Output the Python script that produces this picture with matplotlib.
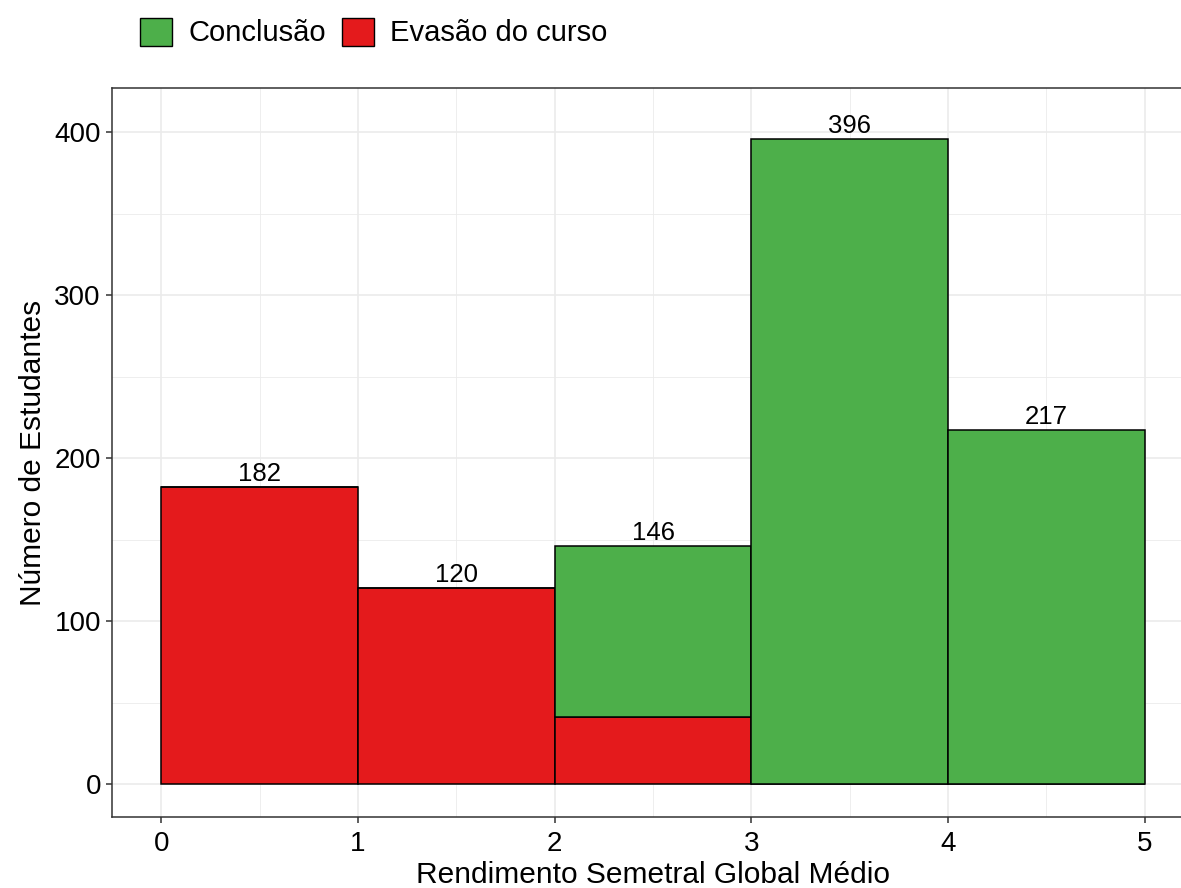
import matplotlib.pyplot as plt
from matplotlib.patches import Patch
from matplotlib.ticker import MultipleLocator

plt.rcParams['font.family'] = ['Liberation Sans', 'DejaVu Sans']

# Dados do histograma
bin_edges = [0, 1, 2, 3, 4, 5]
evasao = [182, 120, 41, 0, 0]
conclusao = [0, 0, 105, 396, 217]
totais = [e + c for e, c in zip(evasao, conclusao)]

cor_conclusao = '#4DAF4A'
cor_evasao = '#E41A1C'

fig = plt.figure(figsize=(11.81, 8.88), dpi=100)
ax = fig.add_axes([112 / 1181, 71 / 888, 1082 / 1181, 729 / 888])

left = bin_edges[:-1]
ax.bar(left, evasao, width=1, align='edge', color=cor_evasao,
       edgecolor='black', linewidth=1.1, zorder=3)
ax.bar(left, conclusao, width=1, align='edge', bottom=evasao,
       color=cor_conclusao, edgecolor='black', linewidth=1.1, zorder=3)

# rótulos com o total de cada barra
for x, t in zip(left, totais):
    ax.text(x + 0.5, t + 3.7, str(t), ha='center', va='baseline',
            fontsize=18.5, color='black', zorder=4)

ax.set_xlim(-0.25, 5.25)
ax.set_ylim(-20.2, 427)
ax.xaxis.set_major_locator(MultipleLocator(1))
ax.xaxis.set_minor_locator(MultipleLocator(0.5))
ax.yaxis.set_major_locator(MultipleLocator(100))
ax.yaxis.set_minor_locator(MultipleLocator(50))

ax.grid(which='major', color='#EBEBEB', linewidth=1.2, zorder=0)
ax.grid(which='minor', color='#EBEBEB', linewidth=0.6, zorder=0)
ax.set_axisbelow(True)

for s in ax.spines.values():
    s.set_color('#333333')
    s.set_linewidth(1.1)

ax.tick_params(which='major', length=4, width=1.1, color='#333333',
               labelsize=20, labelcolor='black', pad=4)
ax.tick_params(axis='x', pad=6)
ax.tick_params(which='minor', length=0)

ax.set_xlabel('Rendimento Semetral Global Médio', fontsize=21.5, labelpad=3)
ax.set_ylabel('Número de Estudantes', fontsize=21.5, labelpad=5)

handles = [Patch(facecolor=cor_conclusao, edgecolor='black', label='Conclusão'),
           Patch(facecolor=cor_evasao, edgecolor='black', label='Evasão do curso')]
fig.legend(handles=handles, loc='center left', bbox_to_anchor=(140 / 1181, 1 - 32.5 / 888),
           ncol=2, frameon=False, fontsize=21, handlelength=1.1, handleheight=1.1,
           handletextpad=0.55, columnspacing=0.55, borderpad=0, borderaxespad=0)

fig.savefig('out.png', dpi=100)
